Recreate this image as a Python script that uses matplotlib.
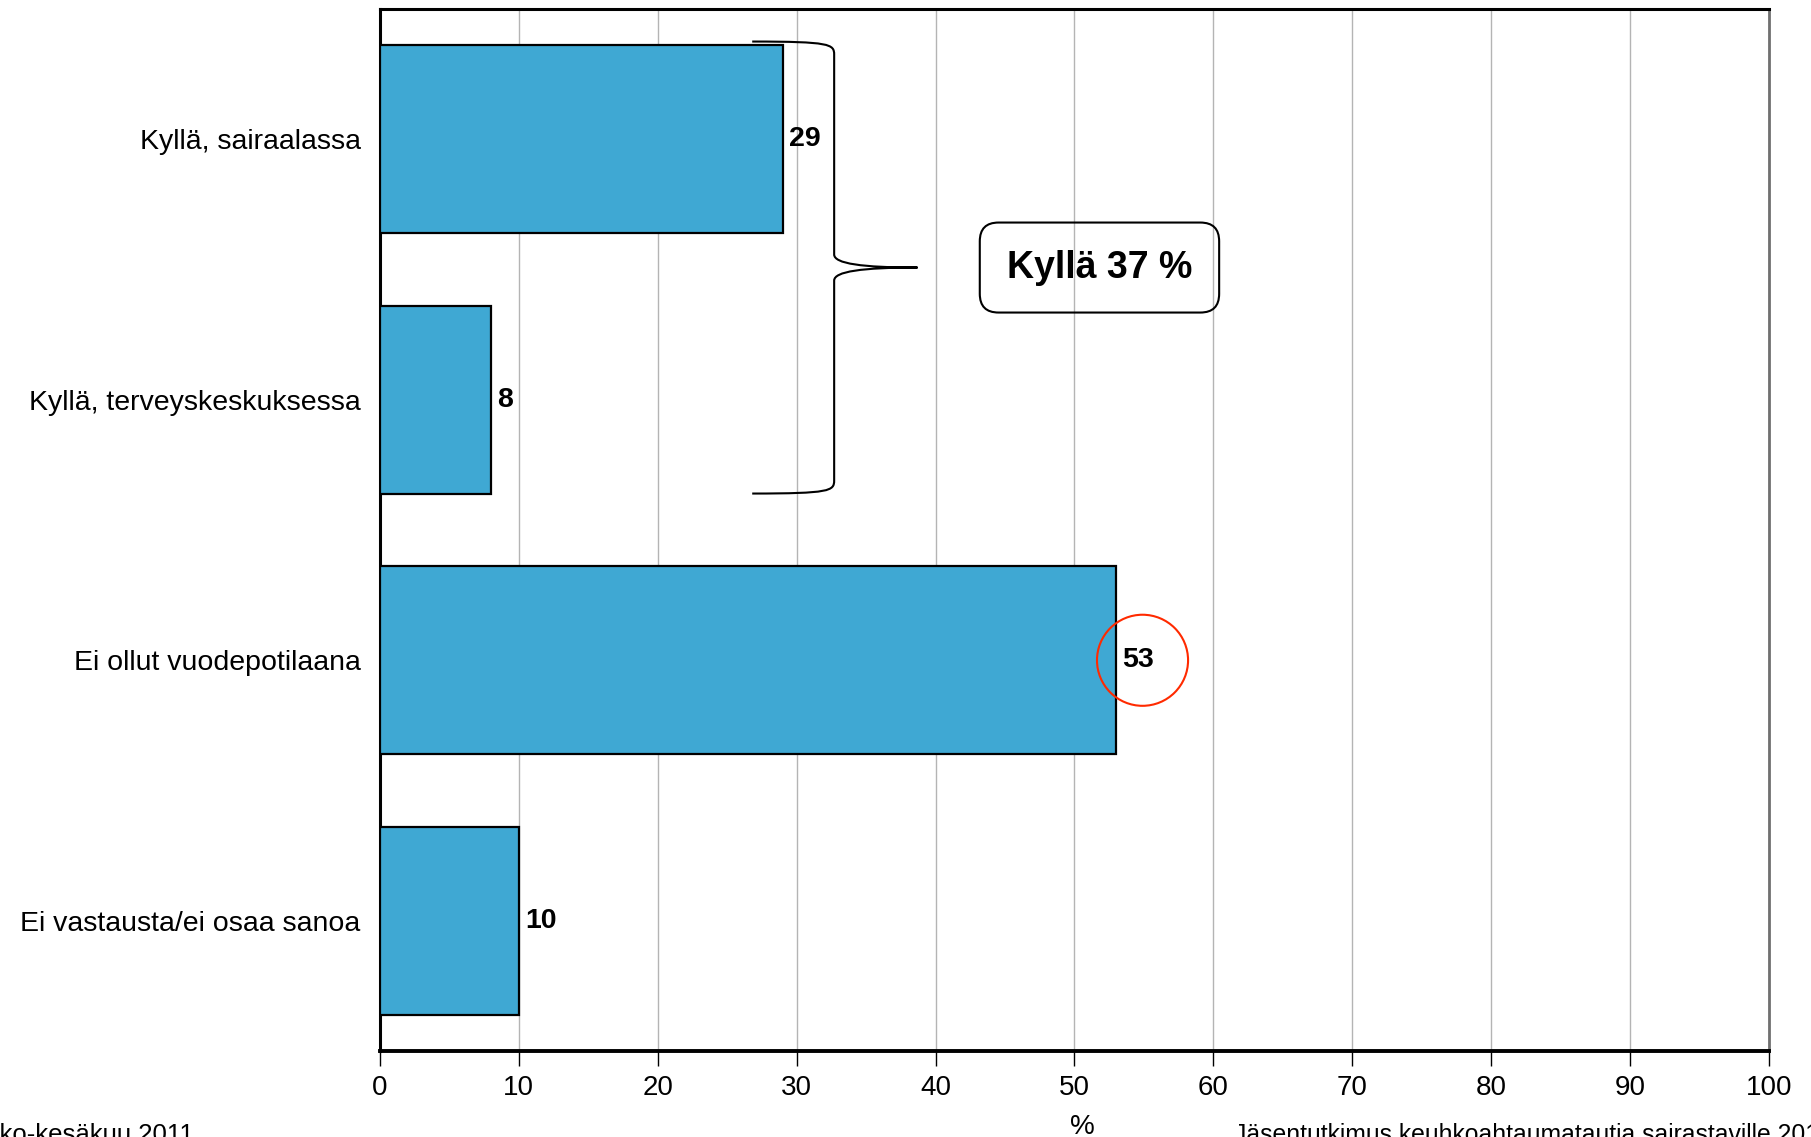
import matplotlib
matplotlib.use("Agg")
import matplotlib.pyplot as plt
from matplotlib.path import Path
from matplotlib.patches import PathPatch

plt.rcParams["font.family"] = ["Liberation Sans", "DejaVu Sans"]

categories = ["Kyllä, sairaalassa", "Kyllä, terveyskeskuksessa",
              "Ei ollut vuodepotilaana", "Ei vastausta/ei osaa sanoa"]
values = [29, 8, 53, 10]
xticks = [0, 10, 20, 30, 40, 50, 60, 70, 80, 90, 100]
summary_text = "Kyllä 37 %"
source_left = "Touko-kesäkuu 2011"
source_right = "Jäsentutkimus keuhkoahtaumatautia sairastaville 2011"

bar_color = "#3fa8d3"
bar_h = 0.72

fig = plt.figure(figsize=(18.11, 11.37), dpi=100)
ax = fig.add_axes([0.2098, 0.0756, 0.767, 0.9165])

ypos = list(range(len(categories)))
ax.barh(ypos, values, height=bar_h, color=bar_color, edgecolor="black",
        linewidth=1.6, zorder=3)

for y, v in zip(ypos, values):
    ax.annotate(str(v), (v, y), xytext=(4.5, 0), textcoords="offset points",
                va="center", ha="left", fontsize=20.5, fontweight="bold", zorder=5)

ax.set_xlim(0, 100)
ax.set_ylim(len(categories) - 0.5, -0.5)
ax.set_xticks(xticks)
ax.set_yticks(ypos)
ax.set_yticklabels(categories, fontsize=20.5)
ax.tick_params(axis="y", length=0, pad=14)
ax.tick_params(axis="x", labelsize=20, length=11, width=1, pad=6, direction="out")
ax.xaxis.grid(True, color="#b4b4b4", linewidth=1, zorder=0)
ax.set_axisbelow(True)

for s in ["left", "top", "bottom"]:
    ax.spines[s].set_color("black")
    ax.spines[s].set_linewidth(2.2)
ax.spines["bottom"].set_linewidth(2.8)
ax.spines["right"].set_color("#707070")
ax.spines["right"].set_linewidth(2)

# curly brace grouping the two "Kyllä" bars
y_top = ypos[0] - bar_h / 2 - 0.015
y_bot = ypos[1] + bar_h / 2
y_mid = (y_top + y_bot) / 2
x0, x1, x2 = 26.8, 32.7, 38.7
d = 0.05
verts = [
    (x0, y_top), (x1 - 0.3, y_top), (x1, y_top + 0.01), (x1, y_top + d),
    (x1, y_mid - d),
    (x1, y_mid - 0.015), (x1 + 2.0, y_mid), (x2, y_mid),
    (x1 + 2.0, y_mid), (x1, y_mid + 0.015), (x1, y_mid + d),
    (x1, y_bot - d),
    (x1, y_bot - 0.01), (x1 - 0.3, y_bot), (x0, y_bot),
]
codes = [Path.MOVETO, Path.CURVE4, Path.CURVE4, Path.CURVE4,
         Path.LINETO,
         Path.CURVE4, Path.CURVE4, Path.CURVE4,
         Path.CURVE4, Path.CURVE4, Path.CURVE4,
         Path.LINETO,
         Path.CURVE4, Path.CURVE4, Path.CURVE4]
ax.add_patch(PathPatch(Path(verts, codes), facecolor="none", edgecolor="black",
                       linewidth=1.5, zorder=4))

ax.text(51.8, y_mid, summary_text, ha="center", va="center", fontsize=27,
        fontweight="bold", zorder=5,
        bbox=dict(boxstyle="round,pad=0.72,rounding_size=0.5", facecolor="none",
                  edgecolor="black", linewidth=1.5))

# red circle around the largest value
ax.scatter([54.9], [ypos[2]], s=4300, facecolors="none", edgecolors="#ff2a00",
           linewidths=1.5, zorder=6)

fig.text(0.5975, 0.003, "%", ha="center", va="baseline", fontsize=20)
fig.text(0.1068, -0.004, source_left, ha="right", va="baseline", fontsize=18.5)
fig.text(0.6815, -0.004, source_right, ha="left", va="baseline", fontsize=17.8)

fig.savefig("out.png", dpi=100)
plt.close(fig)
